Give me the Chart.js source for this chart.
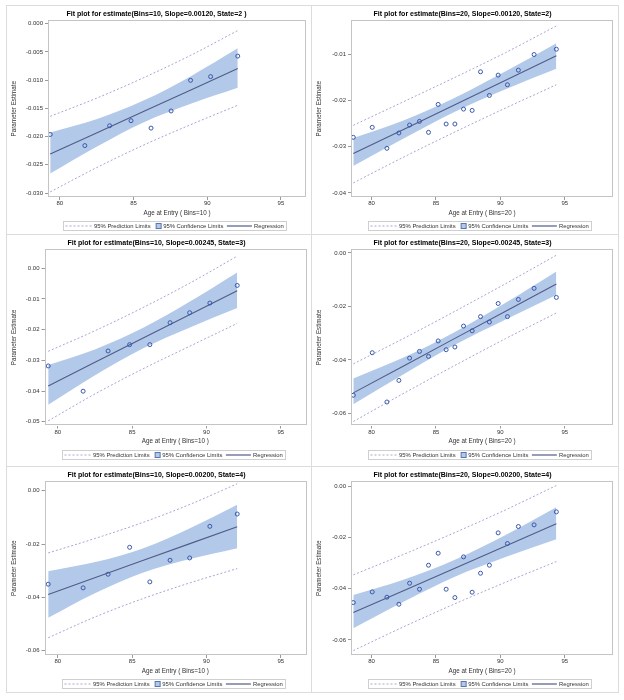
<!DOCTYPE html>
<html>
<head>
<meta charset="utf-8">
<script src="https://cdn.jsdelivr.net/npm/chart.js@4.4.1/dist/chart.umd.min.js"></script>
<style>
  html, body { margin: 0; padding: 0; background: #fff; }
  .panel { position: absolute; }
  .ln { position: absolute; background: #dcdcdc; }
</style>
</head>
<body>
<div class="panel" style="left:6px;top:5px"><canvas id="c1" width="305" height="229"></canvas></div>
<div class="panel" style="left:311px;top:5px"><canvas id="c2" width="307" height="229"></canvas></div>
<div class="panel" style="left:6px;top:234px"><canvas id="c3" width="305" height="232"></canvas></div>
<div class="panel" style="left:311px;top:234px"><canvas id="c4" width="307" height="232"></canvas></div>
<div class="panel" style="left:6px;top:466px"><canvas id="c5" width="305" height="226"></canvas></div>
<div class="panel" style="left:311px;top:466px"><canvas id="c6" width="307" height="226"></canvas></div>

<div class="ln" style="left:6px;top:5px;width:1px;height:688px"></div>
<div class="ln" style="left:311px;top:5px;width:1px;height:688px"></div>
<div class="ln" style="left:618px;top:5px;width:1px;height:688px"></div>
<div class="ln" style="left:6px;top:5px;width:613px;height:1px"></div>
<div class="ln" style="left:6px;top:234px;width:613px;height:1px"></div>
<div class="ln" style="left:6px;top:466px;width:613px;height:1px"></div>
<div class="ln" style="left:6px;top:692px;width:613px;height:1px"></div>

<script>
// age at entry of each bin (x of the circles)
const ageBins10 = [79.35, 81.70, 83.38, 84.83, 86.19, 87.55, 88.87, 90.23, 92.07];
const ageBins20 = [78.58, 80.05, 81.19, 82.12, 82.95, 83.72, 84.42, 85.17, 85.79, 86.47,
                   87.14, 87.81, 88.46, 89.15, 89.83, 90.55, 91.40, 92.62, 94.35];

// parameter estimates (circles)
const est2b10 = [-0.01962, -0.02159, -0.01807, -0.01718, -0.01849, -0.01545, -0.01002, -0.00936, -0.00573];
const est2b20 = [-0.02796, -0.02579, -0.03034, -0.02702, -0.02529, -0.02450, -0.02688, -0.02082, -0.02507, -0.02507,
                 -0.02183, -0.02212, -0.01375, -0.01887, -0.01447, -0.01656, -0.01339, -0.01000, -0.00885];
const est3b10 = [-0.03182, -0.04004, -0.02695, -0.02489, -0.02489, -0.01775, -0.01450, -0.01136, -0.00563];
const est3b20 = [-0.05320, -0.03731, -0.05572, -0.04765, -0.03933, -0.03681, -0.03870, -0.03290, -0.03618, -0.03517,
                 -0.02735, -0.02912, -0.02382, -0.02584, -0.01891, -0.02382, -0.01740, -0.01324, -0.01664];
const est4b10 = [-0.03505, -0.03642, -0.03131, -0.02121, -0.03418, -0.02607, -0.02520, -0.01335, -0.00873];
const est4b20 = [-0.04539, -0.04122, -0.04330, -0.04604, -0.03782, -0.04017, -0.03078, -0.02609, -0.04017, -0.04343,
                 -0.02752, -0.04135, -0.03391, -0.03078, -0.01813, -0.02230, -0.01565, -0.01500, -0.00991];

// x where the fit line and limits were read
const bandX10 = [79.35, 82.53, 85.71, 88.89, 92.07];
const bandX20 = [78.58, 82.52, 86.47, 90.41, 94.35];

// state 2, bins 10
const fit2b10 = [-0.02308, -0.01930, -0.01550, -0.01172, -0.00793];
const clHi2b10 = [-0.01926, -0.01686, -0.01357, -0.00928, -0.00435];
const clLo2b10 = [-0.02654, -0.02174, -0.01743, -0.01416, -0.01133];
const plHi2b10 = [-0.01640, -0.01315, -0.00953, -0.00557, -0.00120];
const plLo2b10 = [-0.02980, -0.02545, -0.02147, -0.01787, -0.01443];
// state 2, bins 20
const fit2b20 = [-0.03149, -0.02619, -0.02088, -0.01559, -0.01029];
const clHi2b20 = [-0.02810, -0.02424, -0.01937, -0.01364, -0.00755];
const clLo2b20 = [-0.03416, -0.02814, -0.02239, -0.01754, -0.01310];
const plHi2b20 = [-0.02536, -0.02018, -0.01496, -0.00958, -0.00380];
const plLo2b20 = [-0.03784, -0.03220, -0.02680, -0.02160, -0.01656];
// state 3, bins 10
const fit3b10 = [-0.03831, -0.03057, -0.02284, -0.01510, -0.00736];
const clHi3b10 = [-0.03150, -0.02636, -0.01951, -0.01089, -0.00141];
const clLo3b10 = [-0.04448, -0.03478, -0.02617, -0.01931, -0.01299];
const plHi3b10 = [-0.02706, -0.02030, -0.01287, -0.00483, 0.00390];
const plLo3b10 = [-0.04968, -0.04084, -0.03281, -0.02537, -0.01797];
// state 3, bins 20
const fit3b20 = [-0.05231, -0.04214, -0.03194, -0.02177, -0.01160];
const clHi3b20 = [-0.04690, -0.03902, -0.02953, -0.01865, -0.00693];
const clLo3b20 = [-0.05660, -0.04526, -0.03435, -0.02489, -0.01576];
const plHi3b20 = [-0.04147, -0.03187, -0.02183, -0.01150, -0.00088];
const plLo3b20 = [-0.06300, -0.05241, -0.04205, -0.03204, -0.02244];
// state 4, bins 10
const fit4b10 = [-0.03892, -0.03256, -0.02620, -0.01983, -0.01347];
const clHi4b10 = [-0.03019, -0.02676, -0.02162, -0.01403, -0.00524];
const clLo4b10 = [-0.04765, -0.03836, -0.03078, -0.02563, -0.02158];
const plHi4b10 = [-0.02333, -0.01785, -0.01192, -0.00512, 0.00262];
const plLo4b10 = [-0.05513, -0.04727, -0.04048, -0.03454, -0.02919];
// state 4, bins 20
const fit4b20 = [-0.04930, -0.04063, -0.03194, -0.02328, -0.01461];
const clHi4b20 = [-0.04239, -0.03633, -0.02862, -0.01898, -0.00809];
const clLo4b20 = [-0.05543, -0.04493, -0.03526, -0.02758, -0.02061];
const plHi4b20 = [-0.03456, -0.02647, -0.01801, -0.00912, 0.00039];
const plLo4b20 = [-0.06417, -0.05479, -0.04587, -0.03744, -0.02935];

const FONT = '"Liberation Sans", Arial, sans-serif';
const COL_PT = '#3a58a8';
const COL_FIT = '#4f5c88';
const COL_PL = '#a7a5d6';
const COL_CL = '#b3c9e9';
const COL_FRAME = '#c4c4c4';

const pts = (xs, ys) => xs.map((x, i) => ({ x: x, y: ys[i] }));

// plot frame on all four sides
const frame = {
    id: 'frame',
    afterDatasetsDraw(chart) {
        const a = chart.chartArea, ctx = chart.ctx;
        ctx.save();
        ctx.strokeStyle = COL_FRAME;
        ctx.lineWidth = 1;
        ctx.strokeRect(Math.round(a.left) + 0.5, Math.round(a.top) + 0.5,
            Math.round(a.right - a.left) - 1, Math.round(a.bottom - a.top) - 1);
        ctx.restore();
    }
};

// SAS style legend box under the axis title
const legendBox = {
    id: 'legendBox',
    afterDraw(chart) {
        const a = chart.chartArea, ctx = chart.ctx;
        const t1 = '95% Prediction Limits', t2 = '95% Confidence Limits', t3 = 'Regression';
        ctx.save();
        ctx.font = '5.9px ' + FONT;
        const w1 = ctx.measureText(t1).width, w2 = ctx.measureText(t2).width, w3 = ctx.measureText(t3).width;
        const total = 2 + 26 + 2.5 + w1 + 5.5 + 5 + 2 + w2 + 3.5 + 25 + 2 + w3 + 3;
        let x = Math.round((a.left + a.right) / 2 - 2 - total / 2) + 0.5;
        const y = Math.round(a.bottom + 24) + 0.5, h = 9, cy = y + h / 2;
        ctx.strokeStyle = '#cfcfcf';
        ctx.lineWidth = 1;
        ctx.strokeRect(x, y, Math.round(total), h);
        ctx.textBaseline = 'middle';
        ctx.fillStyle = '#333';
        x += 2;
        // dashed prediction sample
        ctx.strokeStyle = COL_PL;
        ctx.setLineDash([2, 2]);
        ctx.beginPath(); ctx.moveTo(x, cy); ctx.lineTo(x + 26, cy); ctx.stroke();
        ctx.setLineDash([]);
        x += 28.5;
        ctx.fillText(t1, x, cy + 0.5);
        x += w1 + 5.5;
        // confidence square
        ctx.fillStyle = COL_CL;
        ctx.fillRect(x, cy - 2.5, 5, 5);
        ctx.strokeStyle = '#5a74ad';
        ctx.strokeRect(x, cy - 2.5, 5, 5);
        ctx.fillStyle = '#333';
        x += 7;
        ctx.fillText(t2, x, cy + 0.5);
        x += w2 + 3.5;
        // regression line sample
        ctx.strokeStyle = COL_FIT;
        ctx.lineWidth = 1.2;
        ctx.beginPath(); ctx.moveTo(x, cy); ctx.lineTo(x + 25, cy); ctx.stroke();
        x += 27;
        ctx.fillText(t3, x, cy + 0.5);
        ctx.restore();
    }
};

function fitPlot(id, p) {
    const datasets = [
        { data: pts(p.ageX, p.est), showLine: false, pointRadius: 2, pointBorderWidth: 1,
          pointBorderColor: COL_PT, pointBackgroundColor: 'rgba(0,0,0,0)' },
        { data: pts(p.bandX, p.fit), borderColor: COL_FIT, borderWidth: 1.1, pointRadius: 0 },
        { data: pts(p.bandX, p.plHi), borderColor: COL_PL, borderWidth: 1, borderDash: [2, 2],
          pointRadius: 0, cubicInterpolationMode: 'monotone' },
        { data: pts(p.bandX, p.plLo), borderColor: COL_PL, borderWidth: 1, borderDash: [2, 2],
          pointRadius: 0, cubicInterpolationMode: 'monotone' },
        { data: pts(p.bandX, p.clHi), borderWidth: 0, borderColor: 'rgba(0,0,0,0)', pointRadius: 0,
          backgroundColor: COL_CL, fill: '+1', cubicInterpolationMode: 'monotone' },
        { data: pts(p.bandX, p.clLo), borderWidth: 0, borderColor: 'rgba(0,0,0,0)', pointRadius: 0,
          cubicInterpolationMode: 'monotone' }
    ];
    return new Chart(document.getElementById(id), {
        type: 'line',
        data: { datasets: datasets },
        options: {
            responsive: false,
            animation: false,
            events: [],
            layout: { padding: { left: 0, right: 4, top: 0, bottom: p.padBottom } },
            plugins: {
                legend: { display: false },
                tooltip: { enabled: false },
                title: {
                    display: true,
                    text: p.title,
                    color: '#000',
                    font: { family: FONT, size: 7, weight: 'bold' },
                    padding: { top: 5, bottom: 2 }
                }
            },
            scales: {
                x: {
                    type: 'linear',
                    min: p.xMin, max: p.xMax,
                    afterFit: s => { s.height = 22; },
                    border: { display: false },
                    grid: { drawOnChartArea: false, drawTicks: true, tickLength: 3, color: '#9a9a9a' },
                    ticks: { stepSize: 5, includeBounds: false, padding: 0, maxRotation: 0,
                             color: '#333', font: { family: FONT, size: 6 } },
                    title: { display: true, text: p.xTitle, color: '#333',
                             font: { family: FONT, size: 6.3 }, padding: { top: 0, bottom: 2 } }
                },
                y: {
                    min: p.yMin, max: p.yMax,
                    afterFit: s => { s.width = p.yWidth; },
                    border: { display: false },
                    grid: { drawOnChartArea: false, drawTicks: true, tickLength: 3, color: '#9a9a9a' },
                    ticks: { stepSize: p.yStep, includeBounds: false, padding: 2, color: '#333',
                             font: { family: FONT, size: 6 },
                             callback: v => v.toFixed(p.dec) },
                    title: { display: true, text: 'Parameter Estimate', color: '#333',
                             font: { family: FONT, size: 6.3 }, padding: { top: 4, bottom: 0 } }
                }
            }
        },
        plugins: [frame, legendBox]
    });
}

fitPlot('c1', { title: 'Fit plot for estimate(Bins=10, Slope=0.00120, State=2 )', xTitle: 'Age at Entry ( Bins=10 )',
    ageX: ageBins10, est: est2b10, bandX: bandX10, fit: fit2b10, clHi: clHi2b10, clLo: clLo2b10, plHi: plHi2b10, plLo: plLo2b10,
    xMin: 79.2, xMax: 96.7, yMin: -0.0307, yMax: 0.0006, yStep: 0.005, dec: 3, yWidth: 42, padBottom: 15 });
fitPlot('c2', { title: 'Fit plot for estimate(Bins=20, Slope=0.00120, State=2)', xTitle: 'Age at Entry ( Bins=20 )',
    ageX: ageBins20, est: est2b20, bandX: bandX20, fit: fit2b20, clHi: clHi2b20, clLo: clLo2b20, plHi: plHi2b20, plLo: plLo2b20,
    xMin: 78.4, xMax: 98.75, yMin: -0.0409, yMax: -0.0026, yStep: 0.01, dec: 2, yWidth: 40, padBottom: 15 });
fitPlot('c3', { title: 'Fit plot for estimate(Bins=10, Slope=0.00245, State=3)', xTitle: 'Age at Entry ( Bins=10 )',
    ageX: ageBins10, est: est3b10, bandX: bandX10, fit: fit3b10, clHi: clHi3b10, clLo: clLo3b10, plHi: plHi3b10, plLo: plLo3b10,
    xMin: 79.1, xMax: 96.7, yMin: -0.0512, yMax: 0.0061, yStep: 0.01, dec: 2, yWidth: 38.5, padBottom: 18.5 });
fitPlot('c4', { title: 'Fit plot for estimate(Bins=20, Slope=0.00245, State=3)', xTitle: 'Age at Entry ( Bins=20 )',
    ageX: ageBins20, est: est3b20, bandX: bandX20, fit: fit3b20, clHi: clHi3b20, clLo: clLo3b20, plHi: plHi3b20, plLo: plLo3b20,
    xMin: 78.4, xMax: 98.75, yMin: -0.0645, yMax: 0.0013, yStep: 0.02, dec: 2, yWidth: 40, padBottom: 18.5 });
fitPlot('c5', { title: 'Fit plot for estimate(Bins=10, Slope=0.00200, State=4)', xTitle: 'Age at Entry ( Bins=10 )',
    ageX: ageBins10, est: est4b10, bandX: bandX10, fit: fit4b10, clHi: clHi4b10, clLo: clLo4b10, plHi: plHi4b10, plLo: plLo4b10,
    xMin: 79.1, xMax: 96.7, yMin: -0.0616, yMax: 0.0035, yStep: 0.02, dec: 2, yWidth: 38.5, padBottom: 15 });
fitPlot('c6', { title: 'Fit plot for estimate(Bins=20, Slope=0.00200, State=4)', xTitle: 'Age at Entry ( Bins=20 )',
    ageX: ageBins20, est: est4b20, bandX: bandX20, fit: fit4b20, clHi: clHi4b20, clLo: clLo4b20, plHi: plHi4b20, plLo: plLo4b20,
    xMin: 78.4, xMax: 98.75, yMin: -0.0659, yMax: 0.0020, yStep: 0.02, dec: 2, yWidth: 40, padBottom: 15 });
</script>
</body>
</html>
